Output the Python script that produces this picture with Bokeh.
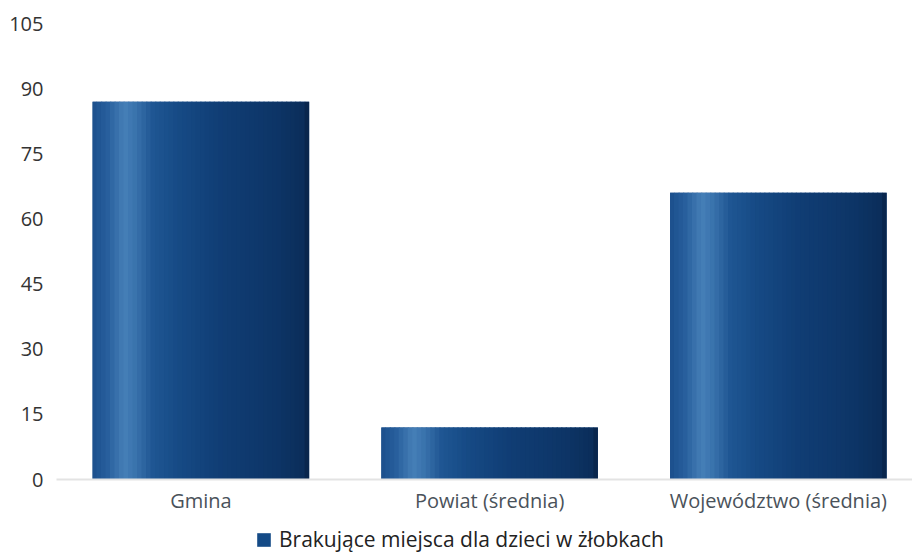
from bokeh.plotting import figure
from bokeh.models import ColumnDataSource, Range1d, FixedTicker, Legend, LegendItem
from bokeh.layouts import column
from bokeh.transform import dodge
from bokeh.embed import file_html
from bokeh.resources import INLINE

categories = ["Gmina", "Powiat (średnia)", "Województwo (średnia)"]
values = [87, 12, 66]
series_name = "Brakujące miejsca dla dzieci w żłobkach"
y_ticks = [0, 15, 30, 45, 60, 75, 90, 105]

BAR_COLOR = "#144a86"

xs = list(range(len(categories)))
source = ColumnDataSource(data=dict(x=xs, top=values, cat=categories))

p = figure(frame_width=856, frame_height=456, output_backend="svg", toolbar_location=None,
           x_range=Range1d(-0.5, 2.4645), y_range=Range1d(0, 105),
           min_border_left=56, min_border_right=0, min_border_top=23, min_border_bottom=40)
p.outline_line_color = None
p.xgrid.visible = False
p.ygrid.visible = False
p.background_fill_color = "white"

BAR_W = 0.75
base = p.vbar(x="x", top="top", bottom=0, width=BAR_W, source=source,
              fill_color=BAR_COLOR, line_color=None)

# horizontal shading of each bar (style only)
stops = [(0.0, (0x1b, 0x4f, 0x8c)), (0.07, (0x27, 0x5e, 0x9c)), (0.15, (0x45, 0x7f, 0xb7)),
         (0.20, (0x3a, 0x73, 0xad)), (0.28, (0x1f, 0x56, 0x93)), (0.40, (0x16, 0x4a, 0x85)),
         (0.60, (0x10, 0x3d, 0x74)), (0.85, (0x0d, 0x35, 0x67)), (0.97, (0x0b, 0x2e, 0x5b)),
         (1.0, (0x08, 0x22, 0x45))]

def shade(t):
    for (t0, c0), (t1, c1) in zip(stops[:-1], stops[1:]):
        if t0 <= t <= t1:
            f = (t - t0) / (t1 - t0) if t1 > t0 else 0
            c = [round(a + (b - a) * f) for a, b in zip(c0, c1)]
            return "#%02x%02x%02x" % tuple(c)
    return "#%02x%02x%02x" % stops[-1][1]

N = 48
w = BAR_W / N
for i in range(N):
    t = (i + 0.5) / N
    off = -BAR_W / 2 + (i + 0.5) * w
    ww = w * 1.3 if 0 < i < N - 1 else w
    p.vbar(x=dodge("x", off, range=p.x_range), top="top", bottom=0, width=ww,
           source=source, fill_color=shade(t), line_color=None)

# y axis
p.yaxis.ticker = FixedTicker(ticks=y_ticks)
p.yaxis.axis_line_color = None
p.yaxis.major_tick_line_color = None
p.yaxis.minor_tick_line_color = None
p.yaxis.major_tick_out = 0
p.yaxis.major_label_standoff = 13
p.yaxis.major_label_text_font = "Open Sans"
p.yaxis.major_label_text_font_size = "20px"
p.yaxis.major_label_text_color = "#333333"

# x axis
p.xaxis.ticker = FixedTicker(ticks=xs)
p.xaxis.major_label_overrides = {i: c for i, c in zip(xs, categories)}
p.xaxis.axis_line_color = "#e3e3e3"
p.xaxis.axis_line_width = 2
p.xaxis.major_tick_line_color = None
p.xaxis.minor_tick_line_color = None
p.xaxis.major_tick_out = 0
p.xaxis.major_label_standoff = 7
p.xaxis.major_label_text_font = "Open Sans"
p.xaxis.major_label_text_font_size = "20px"
p.xaxis.major_label_text_color = "#4a525a"

# legend strip below the chart (key renderer kept outside its visible range)
lg = figure(width=912, height=36, output_backend="svg", toolbar_location=None,
            x_range=Range1d(0, 1), y_range=Range1d(0, 1), min_border=0,
            x_axis_location=None, y_axis_location=None)
lg.grid.visible = False
lg.outline_line_color = None
key_src = ColumnDataSource(data=dict(x=[-5], top=[0]))
key = lg.vbar(x="x", top="top", bottom=0, width=0.1, source=key_src,
              fill_color=BAR_COLOR, line_color=None)

legend = Legend(items=[LegendItem(label=series_name, renderers=[key])],
                location=(199, 2), orientation="horizontal")
legend.border_line_color = None
legend.background_fill_alpha = 0
legend.margin = 0
legend.padding = 2
legend.glyph_width = 17
legend.glyph_height = 17
legend.label_standoff = 7
legend.label_text_font = "Open Sans"
legend.label_text_font_size = "21px"
legend.label_text_color = "#222222"
lg.add_layout(legend, "center")

layout = column(p, lg, spacing=0)
open("out.html", "w").write(file_html(layout, INLINE))
